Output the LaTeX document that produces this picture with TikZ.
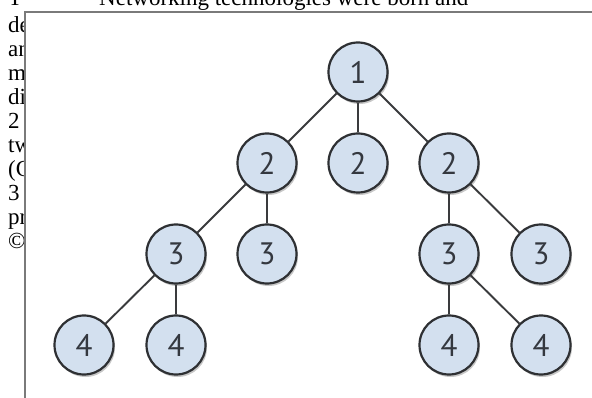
\documentclass[tikz,border=0pt]{standalone}
\usepackage{fontspec}
\setmainfont{Liberation Serif}
\newfontfamily\digitfont{PT Sans}
\usetikzlibrary{shadows}

\definecolor{nodefill}{HTML}{D3E0EF}
\definecolor{nodeline}{HTML}{2E3033}
\definecolor{edgeline}{HTML}{3A3B3D}
\definecolor{digitcol}{HTML}{34383F}
\definecolor{panelline}{HTML}{7A7A7A}

\tikzset{
  treenode/.style={circle, minimum size=59pt, inner sep=0pt,
    draw=nodeline, line width=2.2pt, fill=nodefill,
    font=\digitfont\fontsize{31}{31}\selectfont, text=digitcol,
    drop shadow={shadow xshift=1.5pt, shadow yshift=-2.5pt, opacity=0.22, fill=black}},
  treeedge/.style={draw=edgeline, line width=1.9pt},
  bodytext/.style={inner sep=0pt, anchor=base west,
    font=\fontsize{23}{23.7}\selectfont, text=black}
}

\begin{document}
\begin{tikzpicture}[x=1pt, y=-1pt]
  \useasboundingbox (0,0) rectangle (592,398);
  \clip (0,0) rectangle (592,398);

  % running text of the page behind the figure panel
  \node[bodytext] (t0) at (8,6) {T};
  \node[bodytext] (t1) at (99,6) {Networking technologies were born and};
  \node[bodytext] (l1) at (8,33) {de};
  \node[bodytext] (l2) at (8,56.9) {an};
  \node[bodytext] (l3) at (8,80.8) {mi};
  \node[bodytext] (l4) at (8,104.7) {di};
  \node[bodytext] (l5) at (8,128.6) {2};
  \node[bodytext] (l6) at (8,152.5) {tw};
  \node[bodytext] (l7) at (8,176.4) {(C};
  \node[bodytext] (l8) at (8,200.3) {3};
  \node[bodytext] (l9) at (8,224.2) {pr};
  \node[bodytext] (l10) at (8,248.1) {©};

  % figure panel
  \fill[white] (25,12) rectangle (600,410);
  \draw[panelline, line width=1.3pt] (25,410) -- (25,12) -- (600,12);

  % tree nodes
  \node[treenode] (n1)  at (358,72)  {1};
  \node[treenode] (n2a) at (267,163) {2};
  \node[treenode] (n2b) at (358,163) {2};
  \node[treenode] (n2c) at (449,163) {2};
  \node[treenode] (n3a) at (176,254) {3};
  \node[treenode] (n3b) at (267,254) {3};
  \node[treenode] (n3c) at (449,254) {3};
  \node[treenode] (n3d) at (541,254) {3};
  \node[treenode] (n4a) at (84,345)  {4};
  \node[treenode] (n4b) at (176,345) {4};
  \node[treenode] (n4c) at (449,345) {4};
  \node[treenode] (n4d) at (541,345) {4};

  % connectors
  \path[treeedge]
    (n1) -- (n2a)  (n1) -- (n2b)  (n1) -- (n2c)
    (n2a) -- (n3a) (n2a) -- (n3b)
    (n2c) -- (n3c) (n2c) -- (n3d)
    (n3a) -- (n4a) (n3a) -- (n4b)
    (n3c) -- (n4c) (n3c) -- (n4d);
\end{tikzpicture}
\end{document}
